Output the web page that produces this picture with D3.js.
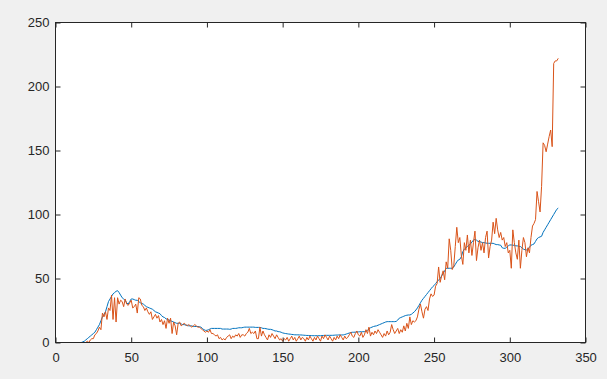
<!DOCTYPE html>
<html>
<head>
<meta charset="utf-8">
<script src="https://cdn.jsdelivr.net/npm/d3@7"></script>
<style>
  html, body { margin: 0; padding: 0; background: #F0F0F0; }
  svg { display: block; }
  .tick text { font-family: "Liberation Sans", Arial, Helvetica, sans-serif; font-size: 13px; fill: #262626; }
</style>
</head>
<body>
<div id="chart"></div>
<script>
// ---- data ----
const xTicks = [0, 50, 100, 150, 200, 250, 300, 350];
const yTicks = [0, 50, 100, 150, 200, 250];

const dailyStartDay = 1;
const dailyValues = [
  0,0,0,0,0,0,0,0,0,0, 0,0,0,0,0,0,0,0,0,0,
  1,0,2,3,3,6,7,9,12,10, 23,20,24,18,27,25,37,18,35,16,
  35,30,33,32,28,34,30,29,31,33, 27,28,30,23,35,34,29,28,25,27,
  24,22,24,18,20,22,19,21,16,18, 14,17,11,19,15,19,7,16,13,6,
  15,16,13,14,15,14,13,14,13,12, 13,14,13,12,12,11,10,9,8,9,
  8,10,7,7,6,5,6,3,4,2, 3,2,4,5,6,3,5,4,6,5,
  7,4,6,6,5,7,8,11,7,8, 7,9,3,3,12,5,9,6,4,2,
  6,4,7,5,3,6,4,2,3,1, 3,2,4,1,3,5,2,4,1,3,
  5,2,4,3,1,4,2,5,3,1, 4,2,5,3,1,5,3,6,4,2,
  5,3,1,4,2,5,3,6,4,2, 5,3,4,6,8,5,4,7,9,6,
  5,8,4,6,10,7,12,5,8,6, 9,7,10,8,6,4,7,5,9,6,
  8,14,10,7,9,11,7,10,8,13, 9,15,11,20,14,17,16,17,20,26,
  30,24,19,26,28,25,34,38,36,37, 44,46,59,47,52,56,49,63,58,81,
  72,57,60,75,90,78,82,68,61,78, 72,84,70,80,68,78,87,64,74,80,
  72,78,70,82,87,66,75,80,94,85, 97,88,82,86,80,82,75,78,70,72,
  58,88,78,70,65,80,58,72,82,78, 67,74,70,82,91,93,96,118,110,102,
  122,156,154,149,155,161,166,153,218,220, 220,222
];

const avgStartDay = 17;
const avgValues = [
  0,0.5,1,2,3,4,5,6,7,8, 10,12,14,17,20,22,24,28,32,34,
  36,38,39,40,40.5,39,37,35,34,33, 31,30,32,34,34,33.5,33,33,32,31,
  30.5,30,29,28,27.5,27,26.5,26,25,24, 23.5,23,22.5,21,20,19.5,18.5,18,17.5,17,
  16.5,16,15.5,15,15,15,14.5,14,14,13.5, 13.5,13,13,13,12.5,12.5,12.5,12.5,12.3,12,
  11,10,9.5,9.5,10,10.5,11,11,11,11, 11,11,11,10.5,10.5,10.5,10.5,10.5,10.3,10.5,
  11,11,11,11.2,11.5,11.5,11.5,11.8,12,12, 12,12,12,12,12,11.8,11.8,11.8,11.8,11.5,
  11,11,10.8,10.5,10.3,10.3,10,9.5,9,9, 8.5,8.4,8,7.5,7.2,7,6.8,6.6,6.5,6.3,
  6.2,6,6,6,5.9,5.9,5.8,5.7,5.6,5.5, 5.5,5.4,5.4,5.3,5.3,5.3,5.3,5.3,5.3,5.4,
  5.5,5.5,5.6,5.6,5.6,5.6,5.6,5.7,5.8,5.8, 5.9,5.9,5.9,5.9,6.2,6.6,7,7.4,7.8,8,
  8,8.1,8.2,8.3,8.4,8.4,8.4,8.5,8.8,9.5, 10.5,11.5,12,12.5,12.8,13,13.5,14,14.5,15,
  15.5,16,16.3,16.3,16.3,16.3,16.3,16.3,16.5,17.5, 19,19.5,20,20.5,21,21.3,21.5,21.5,22,23,
  24,25.4,27,29,31,33,34.5,36,37.5,39, 40.5,42,43.5,44.5,46,47.5,48.8,50,52,54,
  56,58,58,58,58,58,59,61,63,64.5, 65,67,71,73,74,75,76,77,78.5,80,
  80.5,80,79,78.8,78.5,78,78,77.8,77.5,77.5, 77.5,77.5,77.5,77,76.5,76.5,76.2,76,74,73.6,
  73.6,74.5,75.5,76.2,76.2,76,76,75.5,75.5,75, 75,74,73,72.5,72.3,73,74.5,76,76.5,77,
  79,81,82,82.5,83,86,88,90,92,94, 96,98,100,102,104,105
];

// ---- layout ----
const W = 607, H = 379;
const plot = { left: 55.5, top: 22.5, right: 585.5, bottom: 342.5 };

const svg = d3.select("#chart").append("svg")
  .attr("width", W).attr("height", H);

svg.append("rect").attr("width", W).attr("height", H).attr("fill", "#F0F0F0");
svg.append("rect")
  .attr("x", plot.left).attr("y", plot.top)
  .attr("width", plot.right - plot.left).attr("height", plot.bottom - plot.top)
  .attr("fill", "#FFFFFF");

const x = d3.scaleLinear().domain([0, 350]).range([plot.left, plot.right]);
const y = d3.scaleLinear().domain([0, 250]).range([plot.bottom, plot.top]);

svg.append("clipPath").attr("id", "clip").append("rect")
  .attr("x", plot.left).attr("y", plot.top)
  .attr("width", plot.right - plot.left).attr("height", plot.bottom - plot.top);

const line = d3.line().x(d => x(d[0])).y(d => y(d[1]));
const avgData = avgValues.map((v, i) => [avgStartDay + i, v]);
const dailyData = dailyValues.map((v, i) => [dailyStartDay + i, v]);

const g = svg.append("g").attr("clip-path", "url(#clip)");
g.append("path").datum(avgData).attr("d", line)
  .attr("fill", "none").attr("stroke", "#0072BD").attr("stroke-width", 1);
g.append("path").datum(dailyData).attr("d", line)
  .attr("fill", "none").attr("stroke", "#D95319").attr("stroke-width", 1);

// axes
const axColor = "#262626";
const xAxis = svg.append("g").attr("transform", `translate(0,${plot.bottom})`)
  .call(d3.axisBottom(x).tickValues(xTicks).tickSizeInner(-5).tickSizeOuter(0).tickPadding(10));
const yAxis = svg.append("g").attr("transform", `translate(${plot.left},0)`)
  .call(d3.axisLeft(y).tickValues(yTicks).tickSizeInner(-5).tickSizeOuter(0).tickPadding(6));
const xTop = svg.append("g").attr("transform", `translate(0,${plot.top})`)
  .call(d3.axisTop(x).tickValues(xTicks).tickSizeInner(-5).tickSizeOuter(0).tickFormat(""));
const yRight = svg.append("g").attr("transform", `translate(${plot.right},0)`)
  .call(d3.axisRight(y).tickValues(yTicks).tickSizeInner(-5).tickSizeOuter(0).tickFormat(""));

[xAxis, yAxis, xTop, yRight].forEach(a => {
  a.select(".domain").remove();
  a.selectAll(".tick line").attr("stroke", axColor);
});

svg.append("rect")
  .attr("x", plot.left).attr("y", plot.top)
  .attr("width", plot.right - plot.left).attr("height", plot.bottom - plot.top)
  .attr("fill", "none").attr("stroke", axColor).attr("stroke-width", 1);
</script>
</body>
</html>
